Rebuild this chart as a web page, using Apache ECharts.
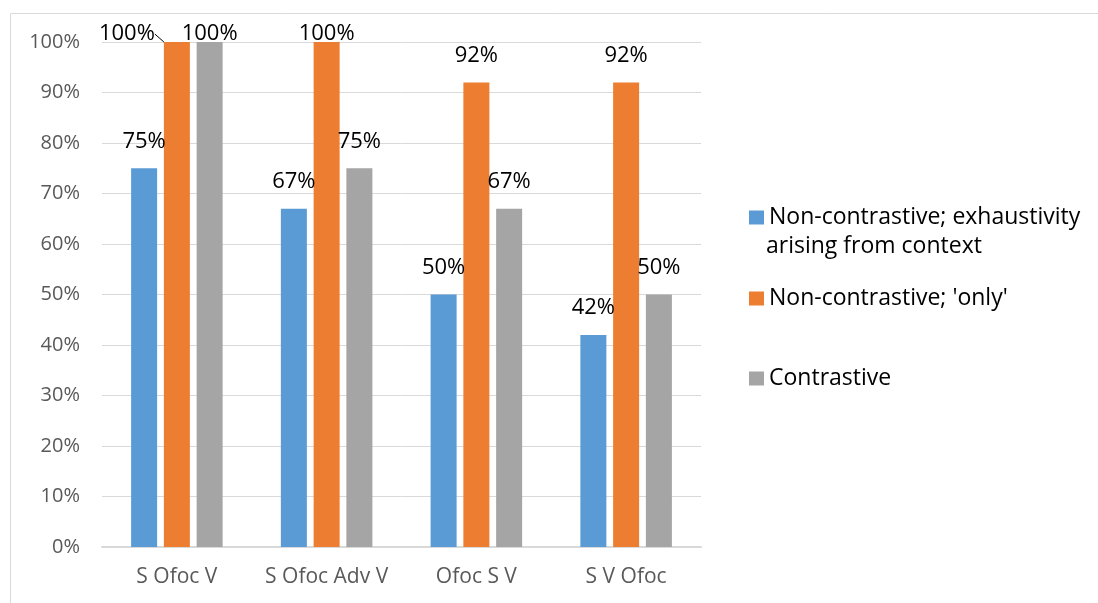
<!DOCTYPE html>
<html><head><meta charset="utf-8">
<script src="https://cdn.jsdelivr.net/npm/echarts@6/dist/echarts.min.js"></script>
<style>html,body{margin:0;padding:0;background:#fff}#c{width:1098px;height:603px}</style>
</head><body><div id="c"></div>
<script>
const categories = ['S Ofoc V', 'S Ofoc Adv V', 'Ofoc S V', 'S V Ofoc'];
const seriesNames = ['Non-contrastive; exhaustivity arising from context', "Non-contrastive; 'only'", 'Contrastive'];
const nonContrastiveContext = [75, 67, 50, 42];
const nonContrastiveOnly = [100, 100, 92, 92];
const contrastive = [100, 75, 67, 50];
const yTicks = [0, 10, 20, 30, 40, 50, 60, 70, 80, 90, 100];
const colors = ['#5B9BD5', '#ED7D31', '#A5A5A5'];
const font = 'Open Sans';

// label nudges mimicking the reference's label placement
function nudge(seriesIndex, p, value) {
  const o = {};
  if (value === 100) o.dy = 19;
  if (seriesIndex === 1 && p.dataIndex === 0) o.dx = -50;
  return o;
}

const chart = echarts.init(document.getElementById('c'));
const mkSeries = (name, data, color, idx) => ({
  name, type: 'bar',
  data: data.map((v, i) => (idx === 1 && i === 0) ? {value: v, labelLine: {show: true, lineStyle: {color: '#000', width: 1}}} : v),
  barWidth: 26, barGap: '26%',
  itemStyle: {color},
  label: {show: true, position: 'top', distance: 16, formatter: '{c}%', color: '#000', fontSize: 22, fontFamily: font},
  labelLayout: p => nudge(idx, p, data[p.dataIndex]),
  labelLine: {show: false}
});
chart.setOption({
  animation: false,
  grid: {left: 102, right: 397, top: 42, bottom: 56},
  xAxis: {
    type: 'category', data: categories,
    axisLine: {lineStyle: {color: '#d9d9d9', width: 2}},
    axisTick: {show: false},
    axisLabel: {color: '#595959', fontSize: 21, fontFamily: font, margin: 20, interval: 0}
  },
  yAxis: {
    type: 'value', min: yTicks[0], max: yTicks[yTicks.length - 1], interval: 10,
    axisLine: {show: false}, axisTick: {show: false},
    axisLabel: {color: '#595959', fontSize: 20, fontFamily: font, formatter: '{value}%', margin: 22},
    splitLine: {lineStyle: {color: '#d9d9d9', width: 1}}
  },
  legend: [
    {data: [seriesNames[0]], left: 744, top: 201, orient: 'vertical', itemWidth: 15, itemHeight: 14, icon: 'rect',
     formatter: () => 'Non-contrastive; exhaustivity', textStyle: {fontSize: 23, color: '#000', fontFamily: font}},
    {data: [seriesNames[1]], left: 744, top: 282, orient: 'vertical', itemWidth: 15, itemHeight: 14, icon: 'rect',
     textStyle: {fontSize: 23, color: '#000', fontFamily: font}},
    {data: [seriesNames[2]], left: 744, top: 362, orient: 'vertical', itemWidth: 15, itemHeight: 14, icon: 'rect',
     textStyle: {fontSize: 23, color: '#000', fontFamily: font}}
  ],
  graphic: [
    {type: 'text', left: 766, top: 235, style: {text: 'arising from context', fontSize: 23, fill: '#000', fontFamily: font}},
    {type: 'rect', shape: {x: 10.5, y: 13.5, width: 1100, height: 600}, style: {fill: 'none', stroke: '#d9d9d9', lineWidth: 1}, silent: true}
  ],
  series: [
    mkSeries(seriesNames[0], nonContrastiveContext, colors[0], 0),
    mkSeries(seriesNames[1], nonContrastiveOnly, colors[1], 1),
    mkSeries(seriesNames[2], contrastive, colors[2], 2)
  ]
});
</script></body></html>
